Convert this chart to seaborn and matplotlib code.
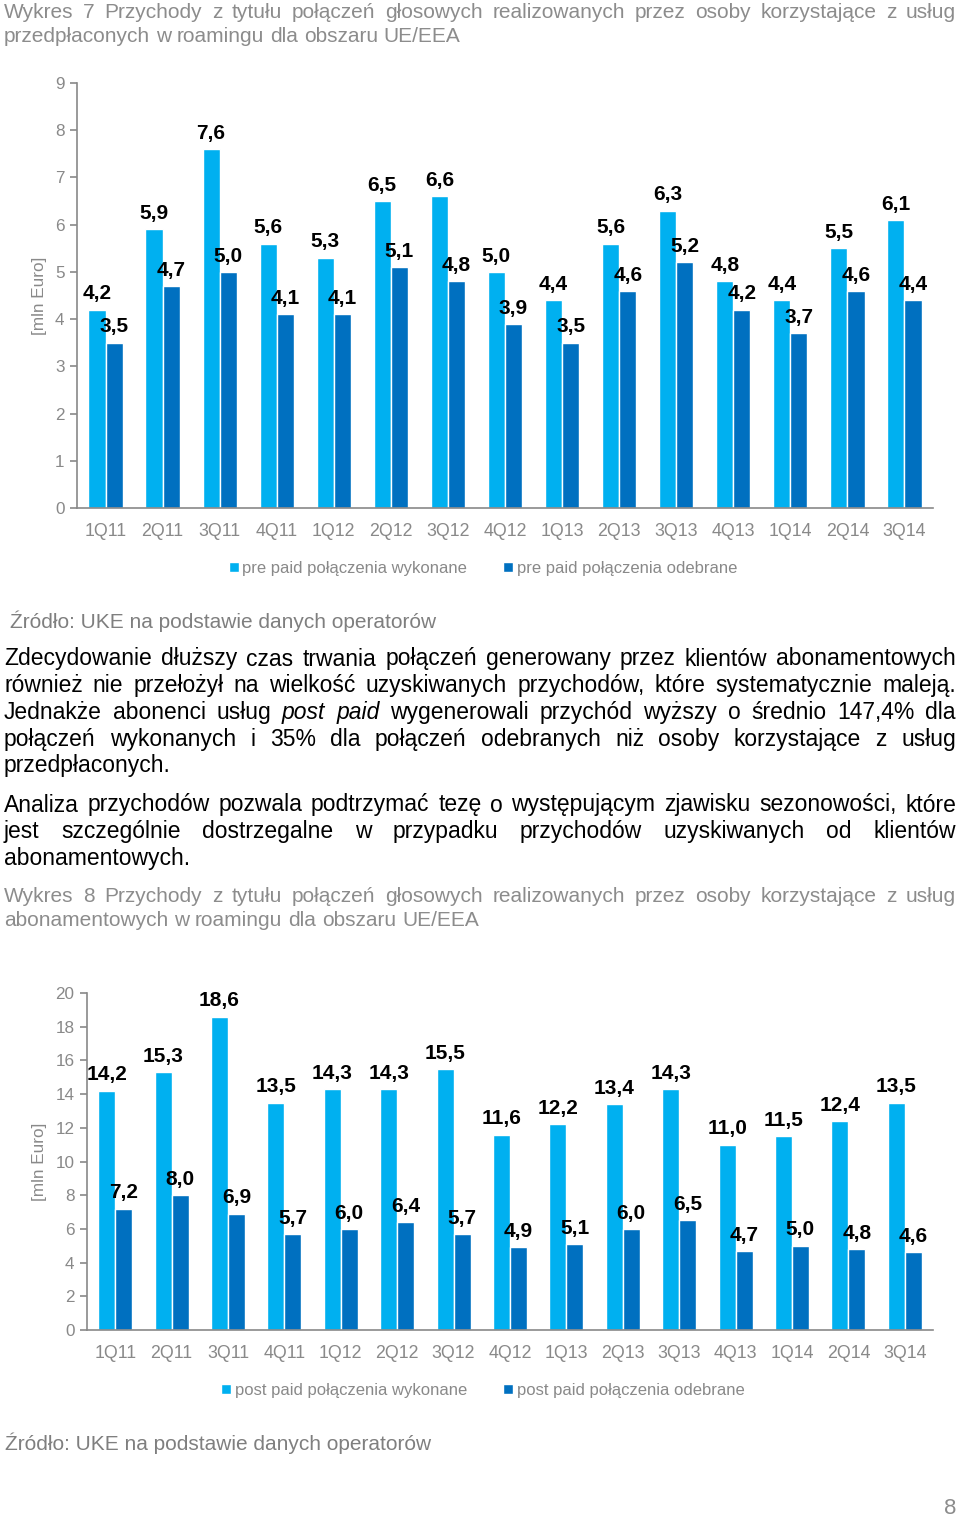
import pandas as pd
import matplotlib
matplotlib.use("Agg")
import matplotlib.pyplot as plt
import seaborn as sns

# dane - wykres 7 (pre paid) i wykres 8 (post paid)
kwartaly = ["1Q11", "2Q11", "3Q11", "4Q11", "1Q12", "2Q12", "3Q12", "4Q12",
            "1Q13", "2Q13", "3Q13", "4Q13", "1Q14", "2Q14", "3Q14"]
pre_wykonane = [4.2, 5.9, 7.6, 5.6, 5.3, 6.5, 6.6, 5.0, 4.4, 5.6, 6.3, 4.8, 4.4, 5.5, 6.1]
pre_odebrane = [3.5, 4.7, 5.0, 4.1, 4.1, 5.1, 4.8, 3.9, 3.5, 4.6, 5.2, 4.2, 3.7, 4.6, 4.4]
post_wykonane = [14.2, 15.3, 18.6, 13.5, 14.3, 14.3, 15.5, 11.6, 12.2, 13.4, 14.3, 11.0, 11.5, 12.4, 13.5]
post_odebrane = [7.2, 8.0, 6.9, 5.7, 6.0, 6.4, 5.7, 4.9, 5.1, 6.0, 6.5, 4.7, 5.0, 4.8, 4.6]

seria_pre = ["pre paid połączenia wykonane", "pre paid połączenia odebrane"]
seria_post = ["post paid połączenia wykonane", "post paid połączenia odebrane"]
kolory = ["#00B0F0", "#0070C0"]
szary = "#898989"

sns.set_theme(style="white")
plt.rcParams['font.family'] = ['Liberation Sans', 'DejaVu Sans']

W, H = 960, 1517
fig = plt.figure(figsize=(9.6, 15.17), dpi=100)
renderer = fig.canvas.get_renderer()


def tekst(s, x, y, **kw):
    return fig.text(x / W, 1 - y / H, s, va="center", **kw)


def wyjustuj(linia, y, x0=4, x1=956, size=16.5, color="black", ostatnia=False):
    # justowanie linii tekstu slowo po slowie
    slowa = linia.split()
    teksty = []
    for s in slowa:
        styl = "italic" if s.startswith("_") else "normal"
        teksty.append(tekst(s.strip("_"), 0, y, fontsize=size, color=color, style=styl))
    szer = [t.get_window_extent(renderer).width for t in teksty]
    if ostatnia or len(slowa) == 1:
        odstep = size * 100 / 72 * 0.28
    else:
        odstep = (x1 - x0 - sum(szer)) / (len(slowa) - 1)
    x = x0
    for t, w in zip(teksty, szer):
        t.set_position((x / W, 1 - y / H))
        x += w + odstep


def wykres(rect, wyk, odb, serie, ymax, ystep, ylab_x, leg_y):
    df = pd.DataFrame({
        "kwartal": kwartaly * 2,
        "wartosc": wyk + odb,
        "seria": [serie[0]] * len(kwartaly) + [serie[1]] * len(kwartaly),
    })
    ax = fig.add_axes(rect)
    sns.barplot(data=df, x="kwartal", y="wartosc", hue="seria", order=kwartaly,
                hue_order=serie, palette=kolory, width=0.6, ax=ax, saturation=1)
    for cont in ax.containers:
        ax.bar_label(cont, labels=[f"{v:.1f}".replace(".", ",") for v in cont.datavalues],
                     padding=4.5, fontsize=15, fontweight="bold", color="black")
    ax.set_ylim(0, ymax)
    ax.set_xlim(-0.5, len(kwartaly) - 0.5)
    ax.set_yticks(range(0, ymax + 1, ystep))
    ax.set_xlabel("")
    ax.set_ylabel("[mln Euro]", color=szary, fontsize=12.3)
    ax.yaxis.set_label_coords(ylab_x, 0.5)
    for s in ["top", "right"]:
        ax.spines[s].set_visible(False)
    for s in ["left", "bottom"]:
        ax.spines[s].set_color(szary)
        ax.spines[s].set_linewidth(1.2)
    ax.set_xticks([i - 0.5 for i in range(len(kwartaly) + 1)], minor=True)
    ax.tick_params(axis="x", which="major", length=0, pad=10.5, labelsize=12.8, labelcolor=szary)
    ax.tick_params(axis="x", which="minor", length=5, color=szary, width=1.2, direction="out")
    ax.tick_params(axis="y", length=5, color=szary, width=1.2, direction="out",
                   labelsize=12.3, labelcolor=szary, pad=4, left=True)
    ax.legend_.remove()
    h, l = ax.get_legend_handles_labels()
    fig.legend(h, l, loc="center", bbox_to_anchor=(0.503, 1 - (leg_y + 1.5) / H), ncol=2,
               frameon=False, fontsize=12, labelcolor=szary, handlelength=0.6,
               handleheight=0.6, handletextpad=0.2, columnspacing=2.2)
    return ax


# tytul wykresu 7
szary_txt = "#8c8c8c"
wyjustuj("Wykres 7 Przychody z tytułu połączeń głosowych realizowanych przez osoby korzystające z usług",
         12, size=15, color=szary_txt)
wyjustuj("przedpłaconych w roamingu dla obszaru UE/EEA", 36, size=15, color=szary_txt, ostatnia=True)

wykres([77 / W, 1 - 508 / H, 856 / W, 425 / H], pre_wykonane, pre_odebrane, seria_pre,
       9, 1, -0.035, 567)

tekst("Źródło: UKE na podstawie danych operatorów", 10, 621, fontsize=15, color="#7f7f7f")

# tekst akapitow
akapit1 = [
    "Zdecydowanie dłuższy czas trwania połączeń generowany przez klientów abonamentowych",
    "również nie przełożył na wielkość uzyskiwanych przychodów, które systematycznie maleją.",
    "Jednakże abonenci usług _post _paid wygenerowali przychód wyższy o średnio 147,4% dla",
    "połączeń wykonanych i 35% dla połączeń odebranych niż osoby korzystające z usług",
    "przedpłaconych.",
]
for i, linia in enumerate(akapit1):
    wyjustuj(linia, 659 + i * 26.7, ostatnia=(i == len(akapit1) - 1))

akapit2 = [
    "Analiza przychodów pozwala podtrzymać tezę o występującym zjawisku sezonowości, które",
    "jest szczególnie dostrzegalne w przypadku przychodów uzyskiwanych od klientów",
    "abonamentowych.",
]
for i, linia in enumerate(akapit2):
    wyjustuj(linia, 805 + i * 26.7, ostatnia=(i == len(akapit2) - 1))

# tytul wykresu 8
wyjustuj("Wykres 8 Przychody z tytułu połączeń głosowych realizowanych przez osoby korzystające z usług",
         896, size=15, color=szary_txt)
wyjustuj("abonamentowych w roamingu dla obszaru UE/EEA", 920, size=15, color=szary_txt, ostatnia=True)

wykres([87 / W, 1 - 1330 / H, 846 / W, 337 / H], post_wykonane, post_odebrane, seria_post,
       20, 2, -0.047, 1389)

tekst("Źródło: UKE na podstawie danych operatorów", 5, 1443, fontsize=15, color="#7f7f7f")
tekst("8", 950, 1508, fontsize=16, color=szary_txt, ha="center")

fig.savefig("out.png", dpi=100)
